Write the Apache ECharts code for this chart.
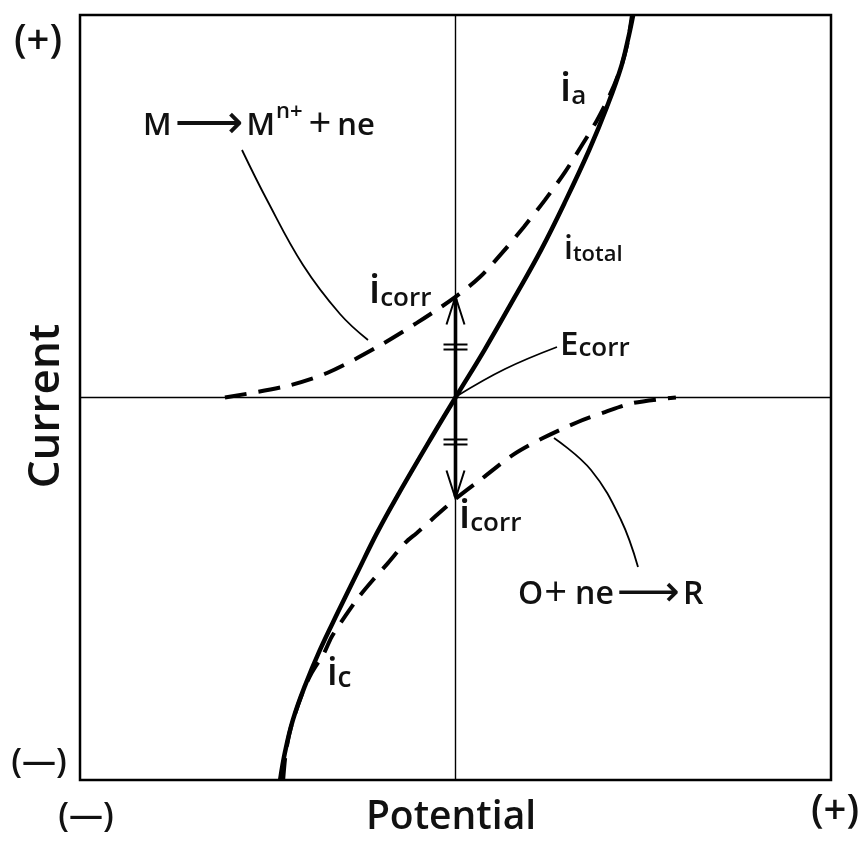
<!DOCTYPE html>
<html>
<head>
<meta charset="utf-8">
<script src="https://cdn.jsdelivr.net/npm/echarts@6/dist/echarts.min.js"></script>
<style>
html,body{margin:0;padding:0;background:#fff;}
#chart{width:868px;height:841px;}
</style>
</head>
<body>
<div id="chart"></div>
<script>
// Potential (x, relative units -100..100) and current (y, relative units -100..100)
const anodicE = [-61.4, -44.9, -34.2, -21.4, -10.3, 0, 6.5, 12.4, 18.2, 23.8, 29.2, 33.7, 37.7, 41.1, 43.8, 45.7, 47.0];
const anodicI = [0, 3.0, 6.4, 12.9, 19.5, 26.3, 31.5, 37.8, 44.6, 51.6, 59.0, 66.0, 72.5, 79.1, 85.6, 92.2, 100];

const cathodicE = [-45.9, -45.2, -43.8, -40.8, -38.3, -35.0, -33.0, -29.2, -25.8, -22.0, -18.0, -13.4, -10.3, -5.5, 0, 7.3, 15.3, 23.3, 32.6, 39.8, 47.5, 58.7];
const cathodicI = [-100, -92.9, -86.1, -77.3, -72.0, -66.8, -62.6, -56.9, -52.2, -47.7, -43.3, -38.0, -35.4, -31.2, -26.5, -21.0, -15.0, -10.6, -6.4, -3.8, -1.4, 0];

const totalE = [-46.7, -45.4, -43.3, -40.1, -36.1, -31.3, -26.2, -20.9, -16.1, -6.0, 0, 7.7, 15.8, 22.8, 29.4, 35.6, 40.3, 44.1, 46.2, 47.3];
const totalI = [-100, -92.7, -84.3, -75.4, -66.0, -56.1, -45.9, -35.4, -26.8, -9.8, 0, 12.4, 26.3, 38.6, 51.6, 64.7, 75.9, 86.4, 94.8, 100];

const Ecorr = 0;
const icorr = 26.4;

const axisMin = -100, axisMax = 100;

function zip(a, b) { return a.map((v, i) => [v, b[i]]); }

const chart = echarts.init(document.getElementById('chart'), null, {renderer: 'canvas'});

const FONT = "'Open Sans', 'DejaVu Sans', sans-serif";
const INK = '#111';

function txt(x, y, text, size, rot) {
  return {
    type: 'text', x: x, y: y, rotation: rot || 0, silent: true,
    style: {text: text, fill: INK, font: '600 ' + size + 'px ' + FONT, align: 'center', verticalAlign: 'middle'}
  };
}

function richTxt(x, y, text, rich, va) {
  return {
    type: 'text', x: x, y: y, silent: true,
    style: {text: text, fill: INK, align: 'left', verticalAlign: va || 'bottom', fontFamily: FONT, fontWeight: 600, rich: rich}
  };
}

const tok = (size, extra) => Object.assign({fontSize: size, fontFamily: FONT, fontWeight: 600, fill: INK, verticalAlign: 'bottom'}, extra || {});
const arrowTok = (size) => ({fontSize: size, fontFamily: "'DejaVu Sans'", fontWeight: 'normal', fill: INK, verticalAlign: 'middle', lineHeight: 50, padding: [0, 3, 0, 3]});
const subRich = (iSize, sSize) => ({i: tok(iSize), s: tok(sSize)});

const option = {
  animation: false,
  backgroundColor: '#fff',
  grid: {left: 80, right: 37, top: 15, bottom: 61, show: true, borderColor: '#000', borderWidth: 2.5, backgroundColor: 'transparent'},
  xAxis: {type: 'value', min: axisMin, max: axisMax, axisLine: {show: false}, axisTick: {show: false}, axisLabel: {show: false}, splitLine: {show: false}},
  yAxis: {type: 'value', min: axisMin, max: axisMax, axisLine: {show: false}, axisTick: {show: false}, axisLabel: {show: false}, splitLine: {show: false}},
  series: [
    {
      name: 'zero', type: 'line', data: [], silent: true,
      markLine: {
        silent: true, symbol: 'none', label: {show: false},
        lineStyle: {color: '#000', width: 1.4, type: 'solid'},
        data: [{xAxis: Ecorr}, {yAxis: 0}]
      }
    },
    {
      name: 'ia', type: 'line', data: zip(anodicE, anodicI), showSymbol: false, smooth: 0.3,
      lineStyle: {color: '#000', width: 4, type: [22, 12], cap: 'butt'}
    },
    {
      name: 'ic', type: 'line', data: zip(cathodicE, cathodicI), showSymbol: false, smooth: 0.3,
      lineStyle: {color: '#000', width: 4, type: [22, 12], cap: 'butt'}
    },
    {
      name: 'itotal', type: 'line', data: zip(totalE, totalI), showSymbol: false, smooth: 0.4,
      lineStyle: {color: '#000', width: 4.5, type: 'solid'}
    },
    {
      name: 'icorrArrow', type: 'custom', silent: true,
      data: [[Ecorr, icorr]],
      renderItem: function (params, api) {
        const p0 = api.coord([api.value(0), 0]);
        const pu = api.coord([api.value(0), api.value(1)]);
        const pd = api.coord([api.value(0), -api.value(1)]);
        const x = p0[0];
        const thin = {stroke: '#000', lineWidth: 2, fill: 'none'};
        const mu = (p0[1] + pu[1]) / 2;
        const md = (p0[1] + pd[1]) / 2 - 6;
        return {
          type: 'group',
          children: [
            {type: 'line', shape: {x1: x, y1: pu[1] + 2, x2: x, y2: pd[1] - 2}, style: {stroke: '#000', lineWidth: 3.6}},
            {type: 'polyline', shape: {points: [[x - 9, pu[1] + 28], [x, pu[1]], [x + 9, pu[1] + 28]]}, style: thin},
            {type: 'polyline', shape: {points: [[x - 9, pd[1] - 28], [x, pd[1]], [x + 9, pd[1] - 28]]}, style: thin},
            {type: 'line', shape: {x1: x - 12, y1: mu - 2.5, x2: x + 12, y2: mu - 2.5}, style: thin},
            {type: 'line', shape: {x1: x - 12, y1: mu + 2.5, x2: x + 12, y2: mu + 2.5}, style: thin},
            {type: 'line', shape: {x1: x - 12, y1: md - 2.5, x2: x + 12, y2: md - 2.5}, style: thin},
            {type: 'line', shape: {x1: x - 12, y1: md + 2.5, x2: x + 12, y2: md + 2.5}, style: thin}
          ]
        };
      }
    }
  ],
  graphic: [
    txt(38, 42, '(+)', 40),
    txt(39, 763, '(—)', 34),
    txt(86, 817, '(—)', 34),
    txt(835, 812, '(+)', 40),
    txt(451, 818, 'Potential', 39),
    txt(46, 406, 'Current', 44, Math.PI / 2),
    // leader lines
    {type: 'polyline', silent: true, shape: {points: [[242, 150], [267, 200], [303, 265], [340, 314], [368, 340]], smooth: 0.4}, style: {stroke: '#000', lineWidth: 1.8, fill: 'none'}},
    {type: 'polyline', silent: true, shape: {points: [[457, 396], [505, 369], [557, 347]], smooth: 0.4}, style: {stroke: '#000', lineWidth: 1.8, fill: 'none'}},
    {type: 'polyline', silent: true, shape: {points: [[554, 438], [591, 470], [621, 520], [638, 567]], smooth: 0.4}, style: {stroke: '#000', lineWidth: 1.8, fill: 'none'}},
    // reaction labels
    richTxt(143, 126, '{m|M}{ar|⟶}{m|M}{sup|n+}{pl|+}{m|ne}', {
      m: tok(31, {verticalAlign: 'middle', lineHeight: 50}),
      ar: arrowTok(48),
      sup: tok(22, {verticalAlign: 'top', lineHeight: 14, padding: [0, 0, 0, 1]}),
      pl: tok(40, {fontWeight: 400, verticalAlign: 'middle', lineHeight: 50, padding: [0, 6, 0, 6]})
    }, 'middle'),
    richTxt(518, 595, '{m|O}{pl|+}{m|ne}{ar|⟶}{m|R}', {
      m: tok(32, {verticalAlign: 'middle', lineHeight: 50}),
      ar: arrowTok(44),
      pl: tok(40, {fontWeight: 400, verticalAlign: 'middle', lineHeight: 50, padding: [0, 8, 0, 1]})
    }, 'middle'),
    // current labels
    richTxt(369, 312, '{i|i}{s|corr}', subRich(40, 26)),
    richTxt(459, 537, '{i|i}{s|corr}', subRich(40, 26)),
    richTxt(560, 110, '{i|i}{s|a}', subRich(40, 26)),
    richTxt(564, 266, '{i|i}{s|total}', subRich(32, 22)),
    richTxt(327, 693, '{i|i}{s|c}', subRich(38, 28)),
    richTxt(560, 362, '{i|E}{s|corr}', subRich(33, 26))
  ]
};

chart.setOption(option);
</script>
</body>
</html>
